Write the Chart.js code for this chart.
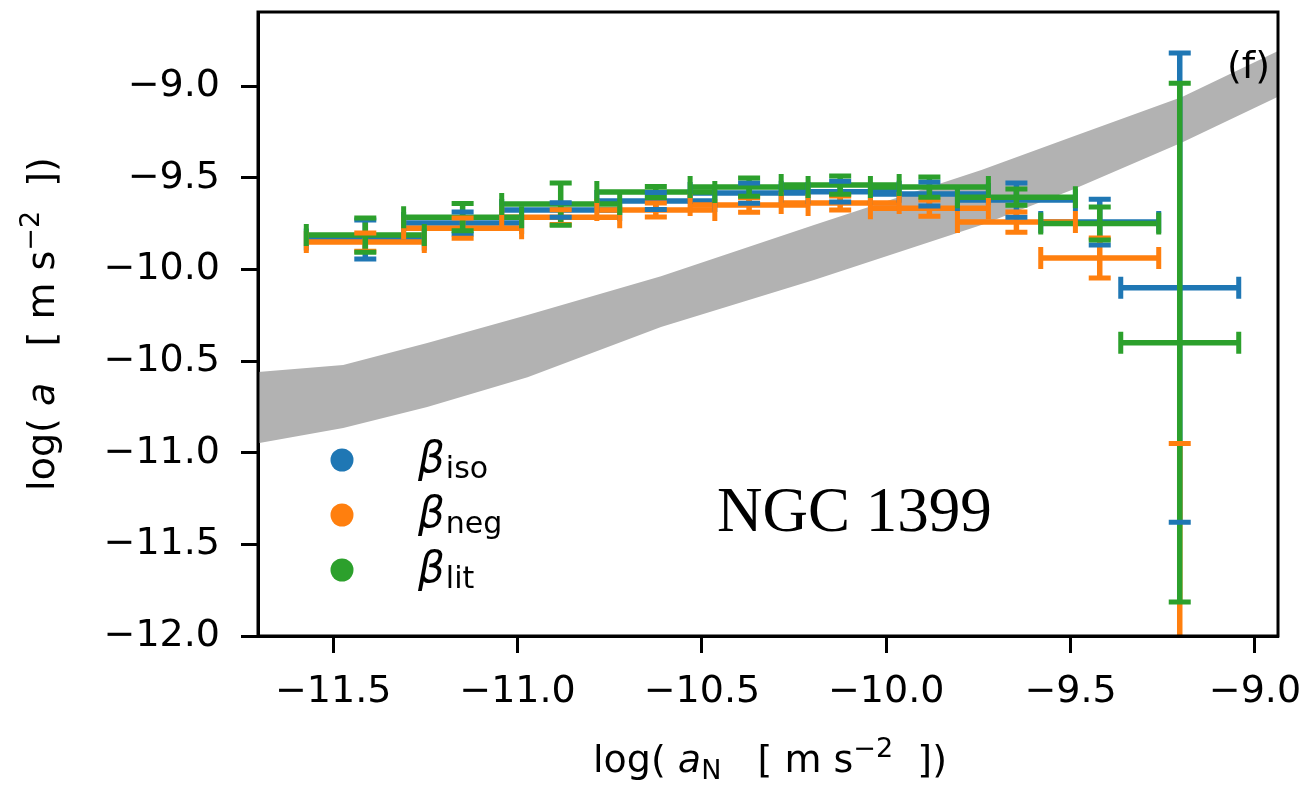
<!DOCTYPE html>
<html>
<head>
<meta charset="utf-8">
<script src="https://cdn.jsdelivr.net/npm/chart.js@4.4.1/dist/chart.umd.min.js"></script>
<style>
  html, body { margin: 0; padding: 0; background: #fff; }
</style>
</head>
<body>
<canvas id="chart" width="1316" height="787"></canvas>
<script>
// log(aN) bin centres and half widths, shared by the three beta models
const xCenters = [-11.413, -11.149, -10.883, -10.625, -10.372, -10.125, -9.883, -9.647, -9.421, -9.204];
const xErr = [0.16, 0.16, 0.16, 0.16, 0.16, 0.16, 0.16, 0.16, 0.16, 0.16];

// log(a) for beta_iso, beta_neg, beta_lit with their errors
const isoY = [-9.837, -9.747, -9.676, -9.627, -9.584, -9.576, -9.589, -9.622, -9.742, -10.10];
const isoErr = [0.106, 0.06, 0.04, 0.046, 0.055, 0.057, 0.065, 0.093, 0.125, 1.28];
const negY = [-9.851, -9.775, -9.715, -9.676, -9.649, -9.638, -9.666, -9.742, -9.938, -12.6];
const negErr = [0.05, 0.055, 0.04, 0.038, 0.04, 0.038, 0.044, 0.055, 0.109, 1.65];
const litY = [-9.813, -9.715, -9.644, -9.578, -9.551, -9.540, -9.551, -9.606, -9.75, -10.40];
const litErr = [0.093, 0.074, 0.115, 0.03, 0.05, 0.05, 0.055, 0.044, 0.09, 1.415];

// grey band (upper / lower edge)
const bandX = [-11.704, -11.473, -11.245, -10.973, -10.611, -10.196, -9.742, -9.497, -9.198, -8.918];
const bandUpper = [-10.560, -10.522, -10.402, -10.249, -10.037, -9.758, -9.458, -9.278, -9.060, -8.790];
const bandLower = [-10.948, -10.866, -10.751, -10.588, -10.315, -10.058, -9.758, -9.567, -9.308, -9.040];

const xTicks = [-11.5, -11.0, -10.5, -10.0, -9.5, -9.0];
const yTicks = [-12.0, -11.5, -11.0, -10.5, -10.0, -9.5, -9.0];

const seriesNames = ["iso", "neg", "lit"];
const seriesColors = ["#1f77b4", "#ff7f0e", "#2ca02c"];
const seriesY = [isoY, negY, litY];
const seriesErr = [isoErr, negErr, litErr];

const FONT = "DejaVu Sans";
const fmt = (v) => (v < 0 ? "\u2212" : "") + Math.abs(v).toFixed(1);

// draws a row of text pieces (normal / italic / sub / sup), centred on x
function drawPieces(ctx, pieces, x, y) {
  let total = 0;
  pieces.forEach(p => { ctx.font = p.f; p.w = ctx.measureText(p.t).width; total += p.w; });
  let cx = x - total / 2;
  pieces.forEach(p => {
    ctx.font = p.f;
    ctx.fillText(p.t, cx, y + (p.dy || 0));
    cx += p.w;
  });
}

const errorBars = {
  id: "errorBars",
  afterDatasetsDraw(chart) {
    const { ctx, chartArea: a, scales } = chart;
    const xs = scales.x, ys = scales.y;
    const cap = 11;
    ctx.save();
    ctx.beginPath();
    ctx.rect(a.left, a.top, a.right - a.left, a.bottom - a.top);
    ctx.clip();
    ctx.lineCap = "butt";

    // all bar lines first, caps on top (like matplotlib)
    ctx.lineWidth = 5.5;
    seriesY.forEach((vals, k) => {
      ctx.strokeStyle = seriesColors[k];
      vals.forEach((v, i) => {
        const px = xs.getPixelForValue(xCenters[i]);
        const py = ys.getPixelForValue(v);
        ctx.beginPath();
        ctx.moveTo(xs.getPixelForValue(xCenters[i] - xErr[i]), py);
        ctx.lineTo(xs.getPixelForValue(xCenters[i] + xErr[i]), py);
        ctx.moveTo(px, ys.getPixelForValue(v - seriesErr[k][i]));
        ctx.lineTo(px, ys.getPixelForValue(v + seriesErr[k][i]));
        ctx.stroke();
      });
    });

    ctx.lineWidth = 5;
    seriesY.forEach((vals, k) => {
      ctx.strokeStyle = seriesColors[k];
      vals.forEach((v, i) => {
        const px = xs.getPixelForValue(xCenters[i]);
        const py = ys.getPixelForValue(v);
        const x1 = xs.getPixelForValue(xCenters[i] - xErr[i]);
        const x2 = xs.getPixelForValue(xCenters[i] + xErr[i]);
        const y1 = ys.getPixelForValue(v - seriesErr[k][i]);
        const y2 = ys.getPixelForValue(v + seriesErr[k][i]);
        ctx.beginPath();
        ctx.moveTo(x1, py - cap); ctx.lineTo(x1, py + cap);
        ctx.moveTo(x2, py - cap); ctx.lineTo(x2, py + cap);
        ctx.moveTo(px - cap, y1); ctx.lineTo(px + cap, y1);
        ctx.moveTo(px - cap, y2); ctx.lineTo(px + cap, y2);
        ctx.stroke();
      });
    });
    ctx.restore();

    // frame
    ctx.save();
    ctx.strokeStyle = "#000";
    ctx.lineWidth = 3;
    ctx.strokeRect(a.left, a.top, a.right - a.left, a.bottom - a.top);
    ctx.restore();
  },
  afterDraw(chart) {
    const { ctx } = chart;
    ctx.save();
    ctx.fillStyle = "#000";
    ctx.textBaseline = "alphabetic";
    ctx.textAlign = "left";

    const N38 = `38px "${FONT}"`, I38 = `italic 38px "${FONT}"`, N27 = `27px "${FONT}"`;

    // x axis title
    drawPieces(ctx, [
      { t: "log( ", f: N38 }, { t: "a", f: I38 }, { t: "N", f: N27, dy: 7 },
      { t: "   [ m s", f: N38 }, { t: "\u22122", f: N27, dy: -15 }, { t: "  ])", f: N38 }
    ], 770, 772);

    // y axis title
    ctx.save();
    ctx.translate(54, 324);
    ctx.rotate(-Math.PI / 2);
    drawPieces(ctx, [
      { t: "log( ", f: N38 }, { t: "a", f: I38 },
      { t: "   [ m s", f: N38 }, { t: "\u22122", f: N27, dy: -15 }, { t: "  ])", f: N38 }
    ], 0, 0);
    ctx.restore();

    // legend
    const rows = [460, 515, 570];
    seriesNames.forEach((name, k) => {
      ctx.fillStyle = seriesColors[k];
      ctx.beginPath();
      ctx.arc(342, rows[k], 11.5, 0, Math.PI * 2);
      ctx.fill();
      ctx.fillStyle = "#000";
      ctx.font = `italic 42px "${FONT}"`;
      ctx.fillText("\u03b2", 418, rows[k] + 12);
      const bw = ctx.measureText("\u03b2").width;
      ctx.font = `30px "${FONT}"`;
      ctx.fillText(name, 418 + bw + 1, rows[k] + 18);
    });

    ctx.font = `63px "Liberation Serif"`;
    ctx.fillText("NGC 1399", 717, 531);

    ctx.font = `38px "${FONT}"`;
    ctx.fillText("(f)", 1227, 78);
    ctx.restore();
  }
};

const axisTickFont = { family: FONT, size: 38 };

new Chart(document.getElementById("chart"), {
  type: "scatter",
  data: {
    datasets: [
      {
        type: "line",
        data: bandX.map((x, i) => ({ x, y: bandUpper[i] })),
        borderWidth: 0,
        pointRadius: 0,
        fill: false,
      },
      {
        type: "line",
        data: bandX.map((x, i) => ({ x, y: bandLower[i] })),
        borderWidth: 0,
        pointRadius: 0,
        backgroundColor: "#b2b2b2",
        fill: "-1",
      },
    ],
  },
  options: {
    responsive: false,
    animation: false,
    devicePixelRatio: 1,
    layout: { padding: { top: 12, right: 38, left: 0, bottom: 0 } },
    plugins: {
      legend: { display: false },
      tooltip: { enabled: false },
    },
    scales: {
      x: {
        type: "linear",
        min: -11.704,
        max: -8.9375,
        afterBuildTicks: (s) => { s.ticks = xTicks.map(v => ({ value: v })); },
        afterFit: (s) => {
          s.height = 151;
          s.paddingLeft = 0; s.paddingRight = 0;
        },
        ticks: {
          font: axisTickFont,
          color: "#000",
          padding: 16,
          maxRotation: 0,
          autoSkip: false,
          callback: fmt,
        },
        grid: { drawOnChartArea: false, tickLength: 17, tickWidth: 3, color: "#000" },
        border: { color: "#000", width: 3 },
      },
      y: {
        type: "linear",
        min: -12.0,
        max: -8.596,
        afterBuildTicks: (s) => { s.ticks = yTicks.map(v => ({ value: v })); },
        afterFit: (s) => {
          s.width = 258;
          s.paddingTop = 0; s.paddingBottom = 0;
        },
        ticks: {
          font: axisTickFont,
          color: "#000",
          padding: 21,
          autoSkip: false,
          callback: fmt,
        },
        grid: { drawOnChartArea: false, tickLength: 17, tickWidth: 3, color: "#000" },
        border: { color: "#000", width: 3 },
      },
    },
  },
  plugins: [errorBars],
});
</script>
</body>
</html>
